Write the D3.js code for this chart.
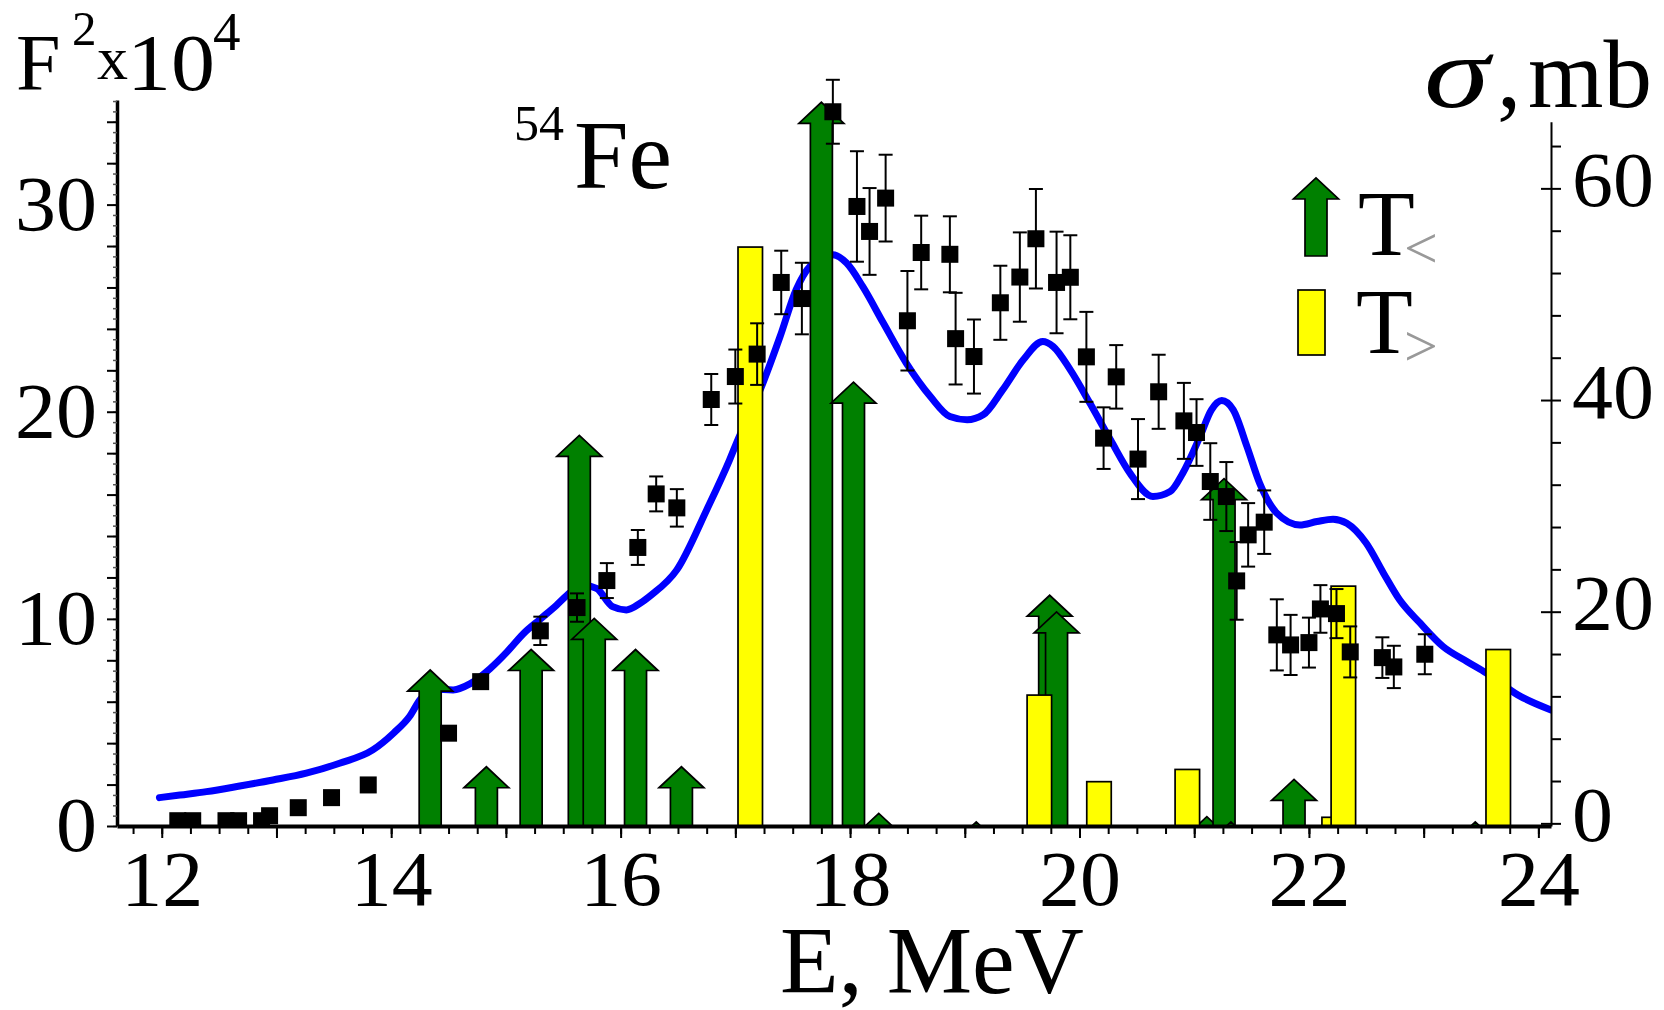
<!DOCTYPE html>
<html>
<head>
<meta charset="utf-8">
<script src="https://cdn.jsdelivr.net/npm/d3@7"></script>
<style>
  html, body { margin: 0; padding: 0; background: #fff; }
  svg { display: block; }
  text { font-family: "Liberation Serif", "Times New Roman", Times, serif; fill: #000; }
</style>
</head>
<body>
<svg id="chart" width="1664" height="1010"></svg>
<script>
// ---- tick labels ----
const xTickLabels = [12, 14, 16, 18, 20, 22, 24];
const f2TickLabels = [0, 10, 20, 30];
const sigmaTickLabels = [0, 20, 40, 60];

// ---- T< states: energy (MeV) and strength F^2 x 10^4 ----
const tLessE  = [14.34, 14.83, 15.22, 15.64, 15.77, 16.13, 16.53, 17.75, 18.03, 18.25, 19.10, 19.74, 19.80, 21.11, 21.26, 21.32, 21.87, 23.45];
const tLessF2 = [7.53, 2.86, 8.52, 18.86, 10.02, 8.52, 2.86, 34.94, 21.43, 0.61, 0.2, 11.14, 10.34, 0.45, 16.77, 0.2, 2.25, 0.2];

// ---- T> states ----
const tGreaterE  = [17.13, 19.65, 20.17, 20.94, 22.22, 22.30, 23.65];
const tGreaterF2 = [27.95, 6.32, 2.14, 2.73, 0.42, 11.58, 8.52];

// ---- measured cross section (mb) with errors ----
const expE = [12.14, 12.27, 12.56, 12.67, 12.87, 12.94, 13.19, 13.48, 13.80, 14.50, 14.78,
  15.30, 15.62, 15.88, 16.15, 16.31, 16.49, 16.79, 17.00, 17.19, 17.40, 17.58, 17.85,
  18.06, 18.17, 18.31, 18.50, 18.62, 18.87, 18.92, 19.08, 19.31, 19.48, 19.62, 19.80,
  19.92, 20.06, 20.21, 20.32, 20.51, 20.69, 20.91, 21.02, 21.14, 21.28, 21.37, 21.47,
  21.61, 21.72, 21.84, 22.00, 22.10, 22.24, 22.36, 22.64, 22.74, 23.01];
const expSigma = [0.25, 0.25, 0.25, 0.25, 0.25, 0.72, 1.48, 2.43, 3.63, 8.52, 13.39,
  18.19, 20.39, 22.94, 26.07, 31.13, 29.81, 40.05, 42.22, 44.34, 51.11, 49.59, 67.24,
  58.29, 55.93, 59.08, 47.49, 53.94, 53.77, 45.80, 44.11, 49.19, 51.62, 55.24, 51.11,
  51.60, 44.08, 36.40, 42.19, 34.42, 40.78, 38.03, 36.93, 32.30, 30.88, 22.91, 27.26,
  28.46, 17.81, 16.86, 17.08, 20.26, 19.82, 16.20, 15.66, 14.78, 15.98];
const expErr = [0, 0, 0, 0, 0, 0, 0, 0, 0, 0, 0,
  1.34, 1.34, 1.65, 1.65, 1.65, 1.77, 2.41, 2.55, 2.91, 3.0, 3.38, 3.02,
  5.22, 4.1, 4.1, 4.7, 3.48, 3.59, 4.33, 3.5, 3.5, 4.22, 4.7, 4.8,
  3.97, 4.25, 2.91, 3.0, 3.78, 3.5, 3.59, 3.15, 3.62, 3.26, 3.67, 3.0,
  3.0, 3.36, 2.84, 2.36, 2.25, 2.32, 2.41, 1.92, 2.0, 1.89];

// ---- calculated cross section (mb) ----
const calcE = [11.98, 12.16, 12.39, 12.68, 12.97, 13.26, 13.55, 13.84, 14.02, 14.16,
  14.25, 14.37, 14.54, 14.69, 14.86, 15.01, 15.15, 15.30, 15.44, 15.56,
  15.68, 15.79, 15.93, 16.05, 16.17, 16.27, 16.49, 16.75, 16.95, 17.01, 17.24,
  17.39, 17.53, 17.65, 17.85, 17.97, 18.11, 18.29, 18.49, 18.70, 18.87,
  19.02, 19.16, 19.33, 19.51, 19.68, 19.77, 19.92, 20.09, 20.27, 20.44,
  20.64, 20.79, 20.90, 21.05, 21.15, 21.24, 21.34, 21.46, 21.57, 21.72,
  21.92, 22.07, 22.21, 22.33, 22.50, 22.65, 22.79, 22.97, 23.17, 23.38,
  23.55, 23.82, 24.11];
const calcSigma = [2.43, 2.68, 3.00, 3.53, 4.10, 4.74, 5.68, 6.94, 8.52, 10.09,
  11.66, 12.67, 12.61, 13.2, 14.6, 16.2, 17.9, 19.3, 20.6, 21.8,
  22.5, 22.2, 20.48, 20.17, 20.8, 21.6, 23.95, 29.62, 34.35, 35.93, 41.60,
  46.00, 50.42, 52.62, 53.72, 52.94, 50.73, 47.27, 43.49, 40.33, 38.44,
  38.13, 38.60, 40.96, 43.80, 45.53, 45.06, 42.85, 39.71, 36.24, 33.09,
  30.88, 31.35, 33.09, 36.55, 39.07, 39.95, 39.07, 35.60, 32.15, 29.31,
  28.20, 28.52, 28.74, 28.36, 26.47, 23.64, 21.12, 18.91, 16.70, 15.28,
  14.19, 12.14, 10.72];

// ---- layout ----
const L = 117, R = 1551, B = 826, TOP_F = 100, TOP_S = 121.7;
const GREEN = "#008000", YELLOW = "#ffff00", BLUE = "#0000ff";
const SHAFT = 11, HEAD = 22.5, HEAD_H = 21, BAR_W = 24.5;
const TICK_FONT = 78, TICK_STRETCH = 1.05;

const svg = d3.select("#chart");
svg.append("rect").attr("width", 1664).attr("height", 1010).attr("fill", "#fff");

const x  = d3.scaleLinear().domain([11.61, 24.11]).range([L, R]);
const yF = d3.scaleLinear().domain([0, 35.05]).range([B, TOP_F]);
const yS = d3.scaleLinear().domain([-0.25, 66.3]).range([B, TOP_S]);

svg.append("defs").append("clipPath").attr("id", "plotClip")
  .append("rect").attr("x", L).attr("y", 0).attr("width", R - L).attr("height", B);

const plot = svg.append("g").attr("clip-path", "url(#plotClip)");

// calculated curve
plot.append("path")
  .datum(calcE.map((e, i) => [e, calcSigma[i]]))
  .attr("d", d3.line().x(d => x(d[0])).y(d => yS(d[1])).curve(d3.curveMonotoneX))
  .attr("fill", "none").attr("stroke", BLUE).attr("stroke-width", 7)
  .attr("stroke-linejoin", "round").attr("stroke-linecap", "round");

// arrow outline: shaft from base up to head, triangular head ending at the tip
function arrowPath(cx, tipY, baseY) {
  const hb = tipY + HEAD_H;
  return `M${cx - SHAFT},${baseY}L${cx - SHAFT},${hb}L${cx - HEAD},${hb}L${cx},${tipY}` +
         `L${cx + HEAD},${hb}L${cx + SHAFT},${hb}L${cx + SHAFT},${baseY}Z`;
}

// T< arrows
plot.append("g").selectAll("path")
  .data(tLessE.map((e, i) => ({ e, v: tLessF2[i] })))
  .join("path")
  .attr("d", d => arrowPath(x(d.e), yF(d.v), B + 4))
  .attr("fill", GREEN).attr("stroke", "#000").attr("stroke-width", 1.7)
  .attr("stroke-linejoin", "miter");

// T> bars
plot.append("g").selectAll("rect")
  .data(tGreaterE.map((e, i) => ({ e, v: tGreaterF2[i] })))
  .join("rect")
  .attr("x", d => x(d.e) - BAR_W / 2)
  .attr("y", d => yF(d.v))
  .attr("width", BAR_W)
  .attr("height", d => B + 4 - yF(d.v))
  .attr("fill", YELLOW).attr("stroke", "#000").attr("stroke-width", 1.7);

// measured points with error bars
const exp = expE.map((e, i) => ({ e, s: expSigma[i], err: expErr[i] }));
const pts = plot.append("g").selectAll("g").data(exp).join("g")
  .attr("transform", d => `translate(${x(d.e)},0)`);
const withErr = pts.filter(d => d.err > 0);
withErr.append("line")
  .attr("x1", 0).attr("x2", 0)
  .attr("y1", d => yS(d.s + d.err)).attr("y2", d => yS(d.s - d.err))
  .attr("stroke", "#000").attr("stroke-width", 2);
withErr.selectAll("line.cap")
  .data(d => [d.s + d.err, d.s - d.err])
  .join("line").attr("class", "cap")
  .attr("x1", -7).attr("x2", 7)
  .attr("y1", v => yS(v)).attr("y2", v => yS(v))
  .attr("stroke", "#000").attr("stroke-width", 2);
pts.append("rect")
  .attr("x", -8.5).attr("y", d => yS(d.s) - 8.5)
  .attr("width", 17).attr("height", 17).attr("fill", "#000");

// ---- axes ----
function styleAxis(g, domainWidth) {
  g.selectAll(".tick line").attr("stroke", "#000").attr("stroke-width", 2);
  if (domainWidth) g.select(".domain").attr("stroke", "#000").attr("stroke-width", domainWidth);
  else g.select(".domain").remove();
}
// widen tick labels slightly about their anchor point
function stretchLabels(g) {
  g.selectAll(".tick text").each(function () {
    const t = d3.select(this);
    const tx = +t.attr("x") || 0, ty = +t.attr("y") || 0;
    t.attr("font-size", TICK_FONT)
     .attr("transform", `translate(${tx},${ty}) scale(${TICK_STRETCH},1) translate(${-tx},${-ty})`);
  });
}

// bottom
const gxMinor = svg.append("g").attr("transform", `translate(0,${B})`)
  .call(d3.axisBottom(x).tickValues(d3.range(11.75, 24.01, 0.25)).tickSize(8).tickSizeOuter(0).tickFormat(""));
styleAxis(gxMinor, 4);
const gxMajor = svg.append("g").attr("transform", `translate(0,${B})`)
  .call(d3.axisBottom(x).tickValues(d3.range(12, 24.01, 1)).tickSize(12).tickFormat(""));
styleAxis(gxMajor, 0);
const gxLab = svg.append("g").attr("transform", `translate(0,${B})`)
  .call(d3.axisBottom(x).tickValues(xTickLabels).tickSize(0).tickPadding(24).tickFormat(d3.format("d")));
styleAxis(gxLab, 0);
stretchLabels(gxLab);

// left
const gyTiny = svg.append("g").attr("transform", `translate(${L},0)`)
  .call(d3.axisLeft(yF).tickValues(d3.range(0, 35.01, 0.5)).tickSize(4).tickSizeOuter(0).tickFormat(""));
styleAxis(gyTiny, 3.5);
gyTiny.selectAll(".tick line").attr("stroke-width", 1.5).attr("stroke", "#555");
const gyMinor = svg.append("g").attr("transform", `translate(${L},0)`)
  .call(d3.axisLeft(yF).tickValues(d3.range(0, 35, 2)).tickSize(10).tickFormat(""));
styleAxis(gyMinor, 0);
const gyLab = svg.append("g").attr("transform", `translate(${L},0)`)
  .call(d3.axisLeft(yF).tickValues(f2TickLabels).tickSize(0).tickPadding(20).tickFormat(d3.format("d")));
styleAxis(gyLab, 0);
stretchLabels(gyLab);

// right
const gsMinor = svg.append("g").attr("transform", `translate(${R},0)`)
  .call(d3.axisRight(yS).tickValues(d3.range(0, 65, 4)).tickSize(10).tickSizeOuter(0).tickFormat(""));
styleAxis(gsMinor, 2);
const gsMajor = svg.append("g").attr("transform", `translate(${R},0)`)
  .call(d3.axisRight(yS).tickValues(sigmaTickLabels).tickSize(-10).tickFormat(""));
styleAxis(gsMajor, 0);
const gsLab = svg.append("g").attr("transform", `translate(${R},0)`)
  .call(d3.axisRight(yS).tickValues(sigmaTickLabels).tickSize(0).tickPadding(21).tickFormat(d3.format("d")));
styleAxis(gsLab, 0);
gsLab.selectAll("text").attr("dy", "0.22em");
stretchLabels(gsLab);

// ---- axis titles and labels ----
// text placed at (x, y) and widened by sx about that point
function label(parent, x0, y0, size, str, sx) {
  return parent.append("text")
    .attr("transform", `translate(${x0},${y0}) scale(${sx || 1},1)`)
    .attr("font-size", size).text(str);
}

const lt = svg.append("g");
label(lt, 16, 90, 80, "F");
label(lt, 72, 45, 49, "2");
label(lt, 97, 79, 62, "x");
label(lt, 127, 90, 80, "10", 1.1);
label(lt, 213, 50, 55, "4");

const rt = svg.append("g");
label(rt, 1424, 107, 102, "σ", 1.3).attr("font-style", "italic");
label(rt, 1497, 107, 97, ",");
label(rt, 1528, 107, 97, "mb");

label(svg, 780, 993, 96, "E, MeV");

const nuc = svg.append("g");
label(nuc, 514, 140, 50, "54");
label(nuc, 574, 188, 98, "Fe");

// ---- legend ----
const lg = svg.append("g");
lg.append("path").attr("d", arrowPath(1316, 178, 256))
  .attr("fill", GREEN).attr("stroke", "#000").attr("stroke-width", 1.7);
label(lg, 1358, 255, 93, "T");
label(lg, 1404, 268, 60, "<").style("fill", "#999");
lg.append("rect").attr("x", 1298).attr("y", 290).attr("width", 27).attr("height", 65)
  .attr("fill", YELLOW).attr("stroke", "#000").attr("stroke-width", 1.7);
label(lg, 1356, 353, 93, "T");
label(lg, 1404, 366, 60, ">").style("fill", "#999");
</script>
</body>
</html>
